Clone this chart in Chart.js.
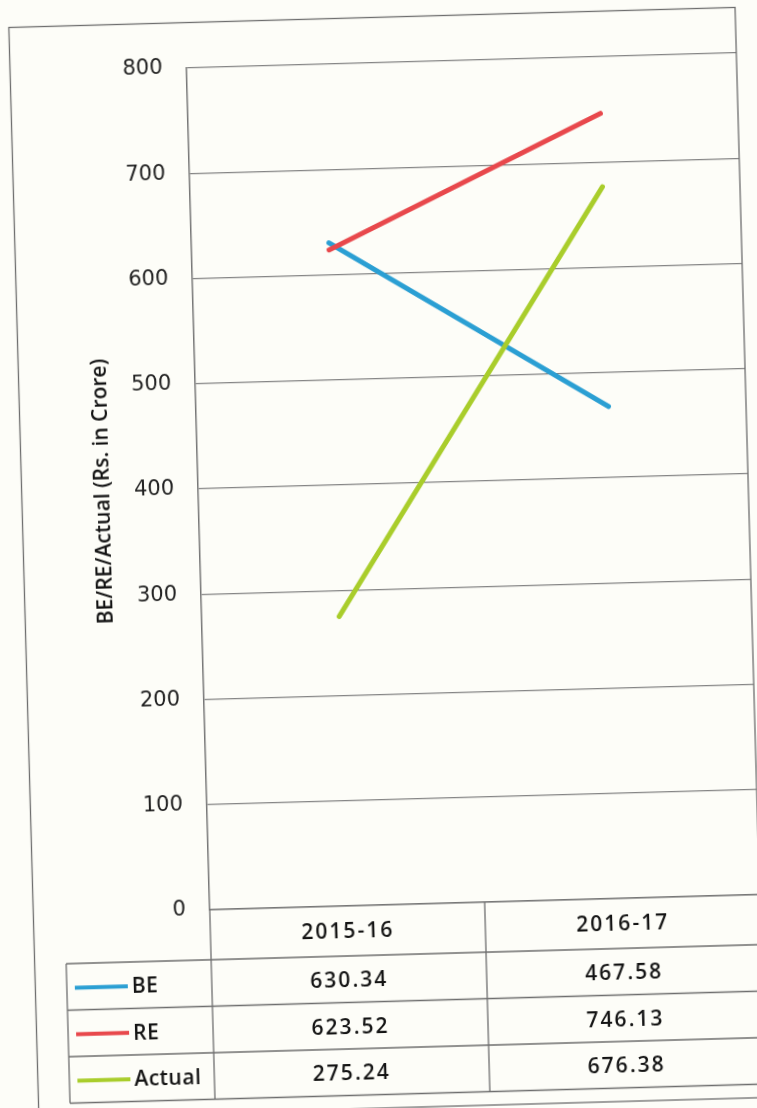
<!DOCTYPE html>
<html>
<head>
<meta charset="utf-8">
<script src="https://cdn.jsdelivr.net/npm/chart.js@4/dist/chart.umd.min.js"></script>
<style>
  html, body { margin: 0; padding: 0; background: #fdfdf8; overflow: hidden; }
  #wrap {
    position: absolute; left: 0; top: 0;
    width: 780px; height: 1160px;
    transform-origin: 378px 554px;
    transform: rotate(-1.58deg);
  }
</style>
</head>
<body>
<div id="wrap"><canvas id="chart" width="780" height="1160"></canvas></div>
<script>
// BE / RE / Actual line chart with data table underneath

const categories   = ["2015-16", "2016-17"];
const beValues     = [630.34, 467.58];
const reValues     = [623.52, 746.13];
const actualValues = [275.24, 676.38];
const seriesNames  = ["BE", "RE", "Actual"];
const yMin = 0, yMax = 800, yStep = 100;

const COL = {
  blue: "#2b9fd3",
  red: "#e8484c",
  green: "#a9cd2b",
  grid: "#858585",
  ink: "#141414",
};

const tableFont = "600 21px 'Open Sans'";

// draws the outer frame + data table under the plot, columns from the x scale
const tablePlugin = {
  id: "dataTable",
  afterDraw(chart) {
    const { ctx, chartArea: ca, scales: { x } } = chart;
    const headH = 50, rowH = 46.5;
    const legLeft = 55;
    const top = ca.bottom;
    const rowTops = [top + headH];
    for (let i = 1; i <= seriesNames.length; i++) rowTops.push(top + headH + rowH * i);
    const bottom = rowTops[rowTops.length - 1];
    const mids = [];
    for (let i = 0; i < categories.length - 1; i++) mids.push((x.getPixelForValue(i) + x.getPixelForValue(i + 1)) / 2);

    ctx.save();
    ctx.strokeStyle = "#6e6e6e";
    ctx.lineWidth = 1.3;
    // chart frame
    ctx.strokeRect(23.5, 17.5, ca.right - 23.5, 1108 - 17.5);

    ctx.beginPath();
    rowTops.forEach(y => { ctx.moveTo(legLeft, y); ctx.lineTo(ca.right, y); });
    ctx.moveTo(ca.left, top); ctx.lineTo(ca.left, bottom);
    mids.forEach(m => { ctx.moveTo(m, top); ctx.lineTo(m, bottom); });
    ctx.moveTo(legLeft, rowTops[0]); ctx.lineTo(legLeft, bottom);
    ctx.stroke();

    ctx.fillStyle = COL.ink;
    ctx.font = tableFont;
    ctx.letterSpacing = "2px";
    ctx.textAlign = "center";
    ctx.textBaseline = "middle";
    categories.forEach((c, i) => ctx.fillText(c, x.getPixelForValue(i), top + headH / 2 + 1));

    const all = [beValues, reValues, actualValues];
    chart.data.datasets.forEach((ds, r) => {
      const cy = rowTops[r] + rowH / 2 + 2;
      ctx.textAlign = "center";
      all[r].forEach((v, i) => ctx.fillText(v.toFixed(2), x.getPixelForValue(i), cy));
      ctx.strokeStyle = ds.borderColor;
      ctx.lineWidth = 4;
      ctx.beginPath();
      ctx.moveTo(63, cy - 1); ctx.lineTo(116, cy - 1);
      ctx.stroke();
      ctx.letterSpacing = "0.5px";
      ctx.textAlign = "left";
      ctx.fillText(ds.label, 120, cy);
      ctx.letterSpacing = "2px";
    });
    ctx.restore();
  }
};

new Chart(document.getElementById("chart"), {
  type: "line",
  data: {
    labels: categories,
    datasets: [
      { label: seriesNames[0], data: beValues, borderColor: COL.blue, order: 2 },
      { label: seriesNames[1], data: reValues, borderColor: COL.red, order: 1 },
      { label: seriesNames[2], data: actualValues, borderColor: COL.green, order: 0 },
    ]
  },
  options: {
    responsive: false,
    animation: false,
    layout: { padding: { left: 0, top: 63, right: 30, bottom: 255 } },
    elements: {
      line: { borderWidth: 5, borderCapStyle: "round", tension: 0 },
      point: { radius: 0, hoverRadius: 0 },
    },
    plugins: { legend: { display: false }, tooltip: { enabled: false } },
    scales: {
      x: {
        offset: true,
        grid: { display: false },
        border: { display: true, color: "#777", width: 1.4 },
        ticks: { display: false },
        afterFit: (s) => { s.height = 0; },
      },
      y: {
        min: yMin, max: yMax,
        grid: { color: COL.grid, lineWidth: 1.3, drawTicks: false },
        border: { display: true, color: "#777", width: 1.5 },
        ticks: { stepSize: yStep, padding: 24, color: "#222", font: { family: "'DejaVu Sans'", size: 21 } },
        title: {
          display: true,
          text: "BE/RE/Actual (Rs. in Crore)",
          color: COL.ink,
          font: { family: "'Open Sans'", size: 21, weight: "600" },
          padding: { top: 92, bottom: 0 },
        },
        afterFit: (s) => { s.width = 200; },
      }
    }
  },
  plugins: [tablePlugin],
});
</script>
</body>
</html>
